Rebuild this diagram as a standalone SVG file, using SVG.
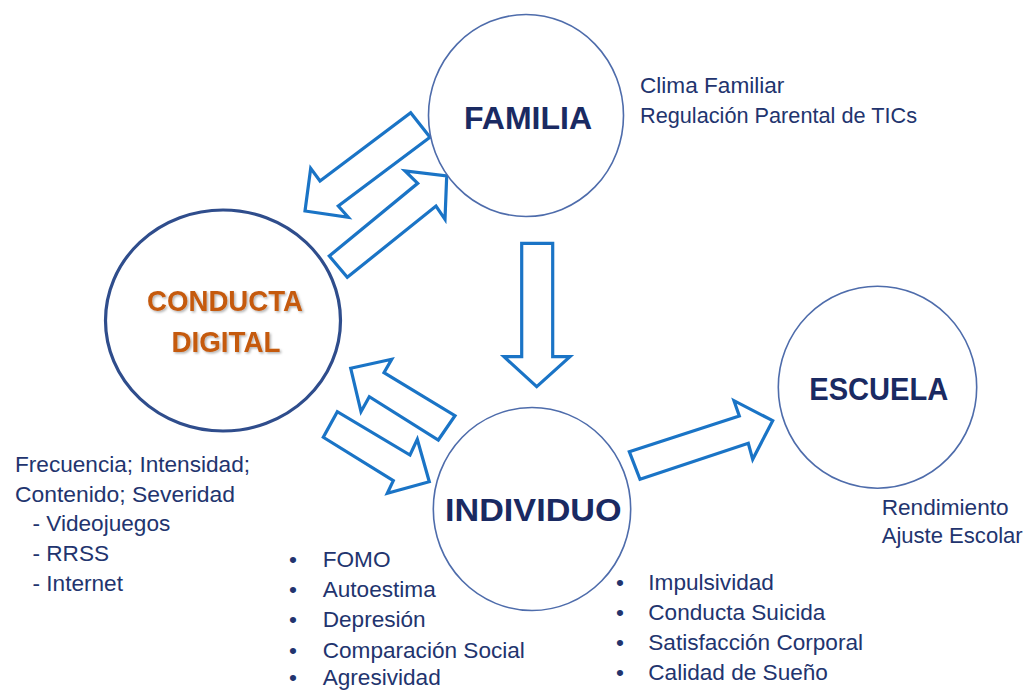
<svg xmlns="http://www.w3.org/2000/svg" width="1026" height="691" viewBox="0 0 1026 691">
<style>
.node{fill:#fff;stroke:#4e6cab;stroke-width:1.6}
.main{fill:#fff;stroke:#2f4d8c;stroke-width:3.2}
.arrow{fill:#fff;stroke:#1a74c6;stroke-width:3.2;stroke-linejoin:miter}
.title{font-family:"Liberation Sans",Arial,sans-serif;font-weight:bold;font-size:32px;fill:#1a2a62;text-anchor:middle}
.orange{font-family:"Liberation Sans",Arial,sans-serif;font-weight:bold;font-size:30px;fill:#c55a11;text-anchor:middle}
.txt{font-family:"Liberation Sans",Arial,sans-serif;font-size:22.6px;fill:#22346e}
</style>
<defs>
<filter id="sh" x="-10%" y="-10%" width="130%" height="140%">
<feDropShadow dx="1.5" dy="1.5" stdDeviation="1" flood-color="#000" flood-opacity="0.3"/>
</filter>
</defs>
<rect width="1026" height="691" fill="#fff"/>
<g id="connectors">
<polygon class="arrow" points="410.7,112.7 430,137.3 338.3,206 348.3,217.3 305,211 310.7,168.3 320,181"/>
<polygon class="arrow" points="329.3,256 417.7,183.3 405,171 446.7,176 445,219.3 436,206 347.3,277.3"/>
<polygon class="arrow" points="350.7,368.3 391.7,359.3 384,372.7 455,415.7 438.3,440 369.3,396.7 361,411.7"/>
<polygon class="arrow" points="337.3,411.7 323.3,437.3 393.3,480.7 387.3,493.3 429.3,481.7 417.3,439.3 410,455"/>
<polygon class="arrow" points="521.7,243.3 552.7,243.3 552.7,356.7 570,356.7 536.7,386.7 504,356.7 521.7,356.7"/>
<polygon class="arrow" points="629.3,451.7 640,479.3 748.3,443.3 752.7,459.3 772.7,420.7 734,400.7 739.3,416"/>
</g>
<g id="familia">
<ellipse class="node" cx="526" cy="115.5" rx="97.5" ry="101"/>
<text class="title" x="528" y="129" textLength="128" lengthAdjust="spacingAndGlyphs">FAMILIA</text>
<text class="txt" x="640" y="93">Clima Familiar</text>
<text class="txt" x="640" y="123" textLength="277" lengthAdjust="spacingAndGlyphs">Regulación Parental de TICs</text>
</g>
<g id="conducta-digital">
<ellipse class="main" cx="223" cy="320.5" rx="117.5" ry="110.5"/>
<g filter="url(#sh)">
<text class="orange" x="225" y="310.5" textLength="156" lengthAdjust="spacingAndGlyphs">CONDUCTA</text>
<text class="orange" x="226" y="351.5" textLength="109" lengthAdjust="spacingAndGlyphs">DIGITAL</text>
</g>
<text class="txt" x="15" y="471.7" textLength="235" lengthAdjust="spacingAndGlyphs">Frecuencia; Intensidad;</text>
<text class="txt" x="15" y="501.7" textLength="220" lengthAdjust="spacingAndGlyphs">Contenido; Severidad</text>
<text class="txt" x="32.5" y="531">- Videojuegos</text>
<text class="txt" x="32.5" y="561">- RRSS</text>
<text class="txt" x="32.5" y="591">- Internet</text>
</g>
<g id="individuo">
<ellipse class="node" cx="532" cy="509" rx="98.7" ry="101.5"/>
<text class="title" x="533.3" y="520.7" textLength="176.5" lengthAdjust="spacingAndGlyphs">INDIVIDUO</text>
<g class="txt">
<text x="289" y="566.7">•</text><text x="322.7" y="566.7">FOMO</text>
<text x="289" y="597">•</text><text x="322.7" y="597">Autoestima</text>
<text x="289" y="627.3">•</text><text x="322.7" y="627.3">Depresión</text>
<text x="289" y="657.5">•</text><text x="322.7" y="657.5">Comparación Social</text>
<text x="289" y="685">•</text><text x="322.7" y="685">Agresividad</text>
<text x="616" y="590">•</text><text x="648.3" y="590">Impulsividad</text>
<text x="616" y="620">•</text><text x="648.3" y="620">Conducta Suicida</text>
<text x="616" y="650.3">•</text><text x="648.3" y="650.3">Satisfacción Corporal</text>
<text x="616" y="679.7">•</text><text x="648.3" y="679.7">Calidad de Sueño</text>
</g>
</g>
<g id="escuela">
<ellipse class="node" cx="877.5" cy="387.2" rx="99.2" ry="101"/>
<text class="title" x="878.8" y="400" textLength="139" lengthAdjust="spacingAndGlyphs">ESCUELA</text>
<text class="txt" x="881.7" y="515">Rendimiento</text>
<text class="txt" x="881.7" y="543.3" textLength="141" lengthAdjust="spacingAndGlyphs">Ajuste Escolar</text>
</g>
</svg>
